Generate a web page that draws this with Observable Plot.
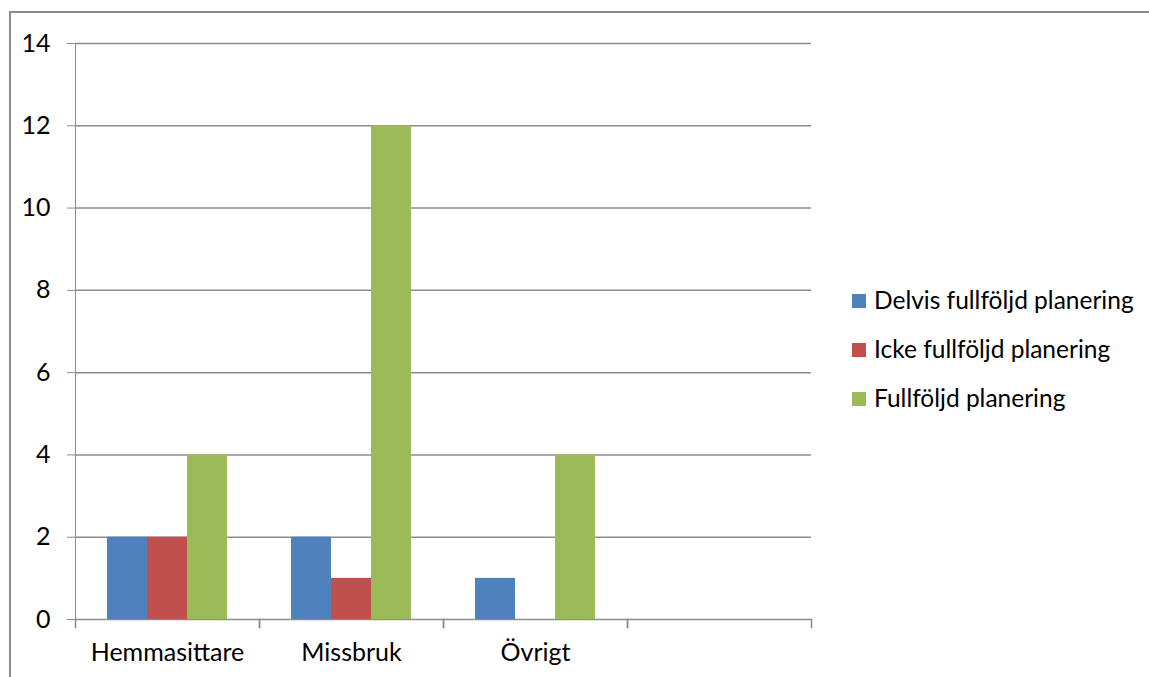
<!DOCTYPE html>
<html><head><meta charset="utf-8">
<script src="https://cdn.jsdelivr.net/npm/d3@7"></script>
<script src="https://cdn.jsdelivr.net/npm/@observablehq/plot@0.6"></script>
<style>
body{margin:0;width:1149px;height:677px;overflow:hidden;background:#fff;font-family:Lato,"Open Sans",sans-serif;}
#border{position:absolute;left:9px;top:11px;width:1300px;height:800px;border:2px solid #8c8c8c;}
#chart{position:absolute;left:0;top:0;}
#chart svg text{font-size:25px;font-family:Lato,"Open Sans",sans-serif;}
#chart svg [aria-label="y-axis tick label"], #chart svg [aria-label="fx-axis tick label"]{fill:#000;color:#000;}
#legend{position:absolute;left:852px;top:276px;}
.item{display:flex;align-items:center;height:49px;}
.sw{width:14px;height:14px;margin-right:8px;}
.lab{font-size:24.5px;color:#000;line-height:1;white-space:nowrap;}
</style></head>
<body>
<div id="border"></div>
<div id="chart"></div>
<div id="legend"></div>
<script>
const categories = ["Hemmasittare", "Missbruk", "Övrigt", ""];
const seriesNames = ["Delvis fullföljd planering", "Icke fullföljd planering", "Fullföljd planering"];
const delvis = [2, 2, 1, null];
const icke = [2, 1, 0, null];
const fullfoljd = [4, 12, 4, null];
const yTicks = [0, 2, 4, 6, 8, 10, 12, 14];
const colors = ["#4F81BD", "#C0504D", "#9BBB59"];

const seriesValues = [delvis, icke, fullfoljd];
const rows = [];
categories.forEach((c, i) => seriesValues.forEach((vals, s) => {
  rows.push({category: c, series: seriesNames[s], value: vals[i]});
}));

const gray = "#8c8c8c";
const chart = Plot.plot({
  width: 830, height: 677,
  marginLeft: 75, marginRight: 19, marginTop: 43, marginBottom: 58,
  style: {fontFamily: "Lato, 'Open Sans', sans-serif", fontSize: "25px", color: gray, background: "transparent", overflow: "visible"},
  fx: {domain: categories, padding: 0, label: null, tickSize: 0, tickPadding: 24},
  x: {domain: seriesNames, paddingInner: 0, paddingOuter: 0.744, axis: null},
  y: {domain: [0, 14], ticks: yTicks, label: null, tickSize: 8, tickPadding: 17, line: true},
  color: {domain: seriesNames, range: colors},
  marks: [
    ...yTicks.map(t => Plot.ruleY(rows.filter(r => r.series === seriesNames[0]), {fx: "category", y: () => t, stroke: gray, strokeWidth: 1.5})),
    Plot.barY(rows, {fx: "category", x: "series", y: "value", fill: "series"}),
    Plot.frame({anchor: "left", insetTop: 576, insetBottom: -8, stroke: gray, strokeWidth: 1.5}),
    Plot.frame({anchor: "right", insetTop: 576, insetBottom: -8, stroke: gray, strokeWidth: 1.5})
  ]
});
document.getElementById("chart").appendChild(chart);

const legend = document.getElementById("legend");
seriesNames.forEach((n, i) => {
  const it = document.createElement("div");
  it.className = "item";
  it.innerHTML = `<div class="sw" style="background:${colors[i]}"></div><div class="lab">${n}</div>`;
  legend.appendChild(it);
});
</script>
</body></html>
